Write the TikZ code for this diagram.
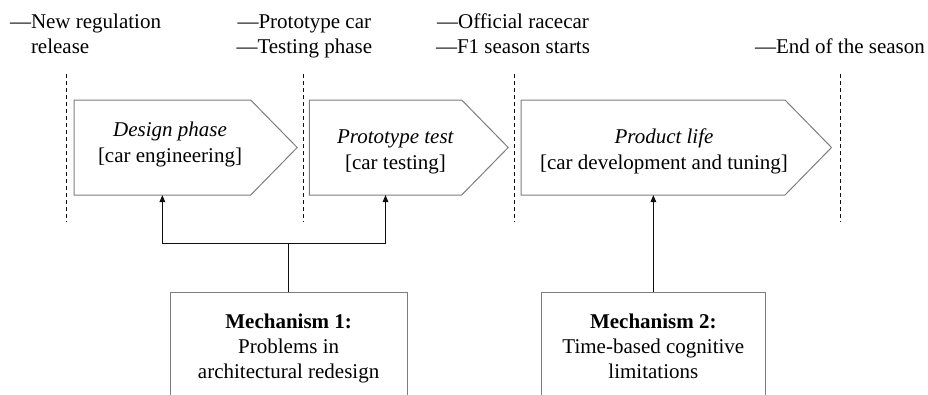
\documentclass[tikz,border=0pt]{standalone}
\usepackage{fontspec}
\setmainfont{Liberation Serif}
\usetikzlibrary{arrows.meta}
\definecolor{boxgray}{RGB}{125,125,125}
\definecolor{inkdark}{RGB}{15,15,15}
\begin{document}
\begin{tikzpicture}[x=1pt,y=-1pt,
  every node/.style={font=\fontsize{21}{25}\selectfont, inner sep=0pt, outer sep=0pt, text=black},
  phase/.style={draw=none, minimum height=95pt},
  phaseline/.style={draw=boxgray, line width=1pt, line join=miter},
  lbl/.style={align=center, font=\fontsize{21}{26}\selectfont},
  toplbl/.style={align=center},
  mech/.style={draw=boxgray, line width=1pt, align=center, minimum height=112pt, anchor=north},
  conn/.style={draw=inkdark, line width=1.2pt, -{Triangle[length=7pt,width=5.5pt]}},
  timeline/.style={draw=inkdark, line width=1.1pt, dash pattern=on 4pt off 3pt}
]
\useasboundingbox (0,0) rectangle (928,394);
\clip (0,0) rectangle (928,394);

% timeline markers
\draw[timeline] (66.5,74) -- (66.5,222);
\draw[timeline] (303.5,74) -- (303.5,222);
\draw[timeline] (514.5,74) -- (514.5,222);
\draw[timeline] (840.5,74) -- (840.5,222);

% top labels
\node[align=left, anchor=north west] (e1) at (10,10.8) {—New regulation\strut\\\phantom{—}release\strut};
\node[toplbl, anchor=north] (e2) at (304.3,10.8) {—Prototype car\strut\\—Testing phase\strut};
\node[toplbl, anchor=north] (e3) at (513,10.8) {—Official racecar\strut\\—F1 season starts\strut};
\node[anchor=base] (e4) at (840,53.3) {—End of the season};

% phase arrows
\node[phase, minimum width=176.7pt] (p1) at (162.35,147.5) {};
\node[phase, minimum width=152.4pt] (p2) at (385.5,147.5) {};
\node[phase, minimum width=264pt] (p3) at (653,147.5) {};
\draw[phaseline] (p1.north west) -- (p1.north east) -- ([xshift=46.5pt]p1.east) -- (p1.south east) -- (p1.south west) -- cycle;
\draw[phaseline] (p2.north west) -- (p2.north east) -- ([xshift=46.5pt]p2.east) -- (p2.south east) -- (p2.south west) -- cycle;
\draw[phaseline] (p3.north west) -- (p3.north east) -- ([xshift=46.5pt]p3.east) -- (p3.south east) -- (p3.south west) -- cycle;

\node[lbl] (t1) at (170,144.5) {\textit{Design phase}\strut\\{[}car engineering{]}\strut};
\node[lbl] (t2) at (395.5,151.1) {\textit{Prototype test}\strut\\{[}car testing{]}\strut};
\node[lbl] (t3) at (664,151.1) {\textit{Product life}\strut\\{[}car development and tuning{]}\strut};

% mechanisms
\node[mech, minimum width=237.3pt] (m1) at (288.65,292.3) {\textbf{Mechanism 1:}\strut\\Problems in\\architectural redesign\strut};
\node[mech, minimum width=223.3pt] (m2) at (653.35,292.3) {\textbf{Mechanism 2:}\strut\\Time-based cognitive\\limitations\strut};

% connectors
\coordinate (j1) at (288.65,243.3);
\draw[conn] (m1.north) -- (j1) -| (p1.south);
\draw[conn] (j1) -| (p2.south);
\draw[conn] (m2.north) -- (m2.north |- p3.south);
\end{tikzpicture}
\end{document}
